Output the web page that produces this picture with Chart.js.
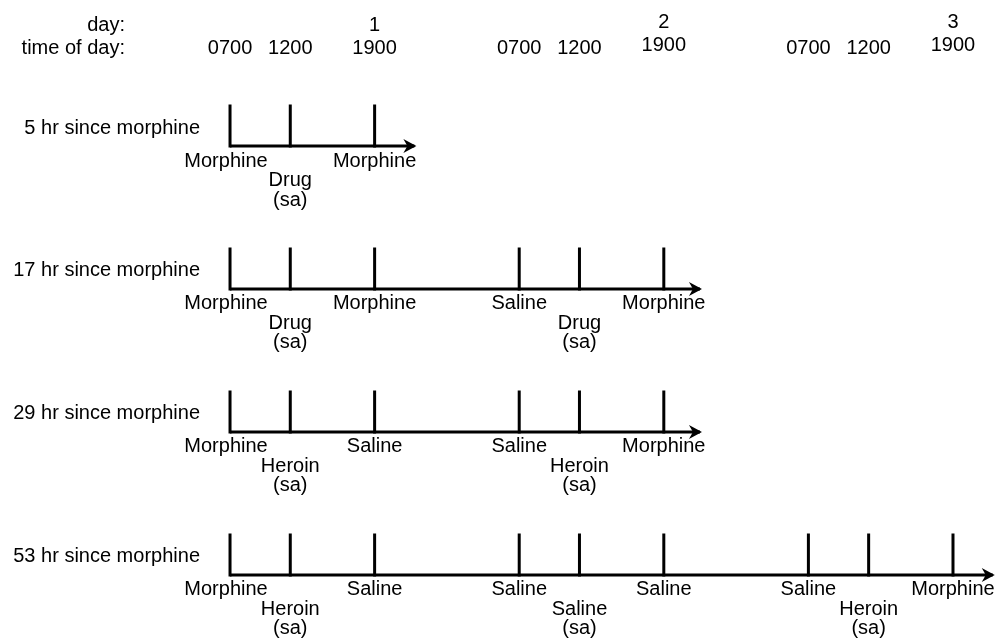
<!DOCTYPE html>
<html>
<head>
<meta charset="utf-8">
<script src="https://cdn.jsdelivr.net/npm/chart.js@4"></script>
<style>
  html, body { margin: 0; padding: 0; background: #fff; }
  #wrap { width: 1003px; height: 643px; }
</style>
</head>
<body>
<div id="wrap"><canvas id="timeline" width="1003" height="643"></canvas></div>
<script>
// --- data (hours counted from 0700 on day 1) ---
const clockHours = [0, 5, 12, 24, 29, 36, 48, 53, 60];
const clockLabels = ['0700', '1200', '1900', '0700', '1200', '1900', '0700', '1200', '1900'];
const dayHours = [12, 36, 60];
const dayLabels = ['1', '2', '3'];

const rowNames = ['5 hr since morphine', '17 hr since morphine', '29 hr since morphine', '53 hr since morphine'];
const rowLevels = [0, 1, 2, 3];
const rowEnds = [15.3, 39, 39, 63.3];

// an empty first line pushes the label one line down
const row1Hours = [0, 5, 12];
const row1Labels = [['Morphine'], ['', 'Drug', '(sa)'], ['Morphine']];
const row2Hours = [0, 5, 12, 24, 29, 36];
const row2Labels = [['Morphine'], ['', 'Drug', '(sa)'], ['Morphine'], ['Saline'], ['', 'Drug', '(sa)'], ['Morphine']];
const row3Hours = [0, 5, 12, 24, 29, 36];
const row3Labels = [['Morphine'], ['', 'Heroin', '(sa)'], ['Saline'], ['Saline'], ['', 'Heroin', '(sa)'], ['Morphine']];
const row4Hours = [0, 5, 12, 24, 29, 36, 48, 53, 60];
const row4Labels = [['Morphine'], ['', 'Heroin', '(sa)'], ['Saline'], ['Saline'], ['', 'Saline', '(sa)'], ['Saline'], ['Saline'], ['', 'Heroin', '(sa)'], ['Morphine']];

const rowHours = [row1Hours, row2Hours, row3Hours, row4Hours];
const rowLabels = [row1Labels, row2Labels, row3Labels, row4Labels];

const TICK_H = 0.28; // tick height in row units
const FONT = '20px "Liberation Sans", Arial, sans-serif';

// build datasets
const datasets = [];
rowLevels.forEach((lvl, r) => {
    datasets.push({
        data: [{x: 0, y: lvl}, {x: rowEnds[r], y: lvl}],
        showLine: true, borderColor: '#000', borderWidth: 3, pointRadius: 0,
        borderCapStyle: 'butt'
    });
    const tickPts = [];
    rowHours[r].forEach(h => {
        tickPts.push({x: h, y: lvl}, {x: h, y: lvl - TICK_H}, {x: h, y: null});
    });
    datasets.push({
        data: tickPts,
        showLine: true, spanGaps: false, borderColor: '#000', borderWidth: 3, pointRadius: 0,
        borderCapStyle: 'square'
    });
});

const textPlugin = {
    id: 'timelineText',
    afterDatasetsDraw(chart) {
        const {ctx, scales: {x, y}} = chart;
        ctx.save();
        ctx.fillStyle = '#000';
        ctx.font = FONT;
        ctx.textBaseline = 'middle';

        // header
        ctx.textAlign = 'right';
        ctx.fillText('day:', 125, 25);
        ctx.fillText('time of day:', 125, 48);
        ctx.textAlign = 'center';
        clockHours.forEach((h, i) => {
            const raised = dayHours.indexOf(h) > 0 ? 3 : 0;
            ctx.fillText(clockLabels[i], x.getPixelForValue(h), 48 - raised);
        });
        dayHours.forEach((h, i) => ctx.fillText(dayLabels[i], x.getPixelForValue(h), i ? 22 : 25));

        // rows
        rowLevels.forEach((lvl, r) => {
            const by = y.getPixelForValue(lvl);
            ctx.textAlign = 'right';
            ctx.fillText(rowNames[r], 200, by - 18);
            ctx.textAlign = 'center';
            rowHours[r].forEach((h, i) => {
                const shift = i === 0 ? -4 : 0;
                rowLabels[r][i].forEach((line, k) => {
                    if (line) ctx.fillText(line, x.getPixelForValue(h) + shift, by + 15 + k * 19.5);
                });
            });
            // arrow head
            const tx = x.getPixelForValue(rowEnds[r]) + 2;
            ctx.beginPath();
            ctx.moveTo(tx, by);
            ctx.lineTo(tx - 13, by - 7);
            ctx.lineTo(tx - 9, by);
            ctx.lineTo(tx - 13, by + 7);
            ctx.closePath();
            ctx.fill();
        });
        ctx.restore();
    }
};

new Chart(document.getElementById('timeline'), {
    type: 'scatter',
    data: {datasets},
    options: {
        responsive: false,
        animation: false,
        layout: {padding: 0},
        plugins: {legend: {display: false}, tooltip: {enabled: false}},
        scales: {
            x: {type: 'linear', display: false, min: -19.09, max: 64.15},
            y: {type: 'linear', display: false, reverse: true, min: -1.021, max: 3.476}
        }
    },
    plugins: [textPlugin]
});
</script>
</body>
</html>
